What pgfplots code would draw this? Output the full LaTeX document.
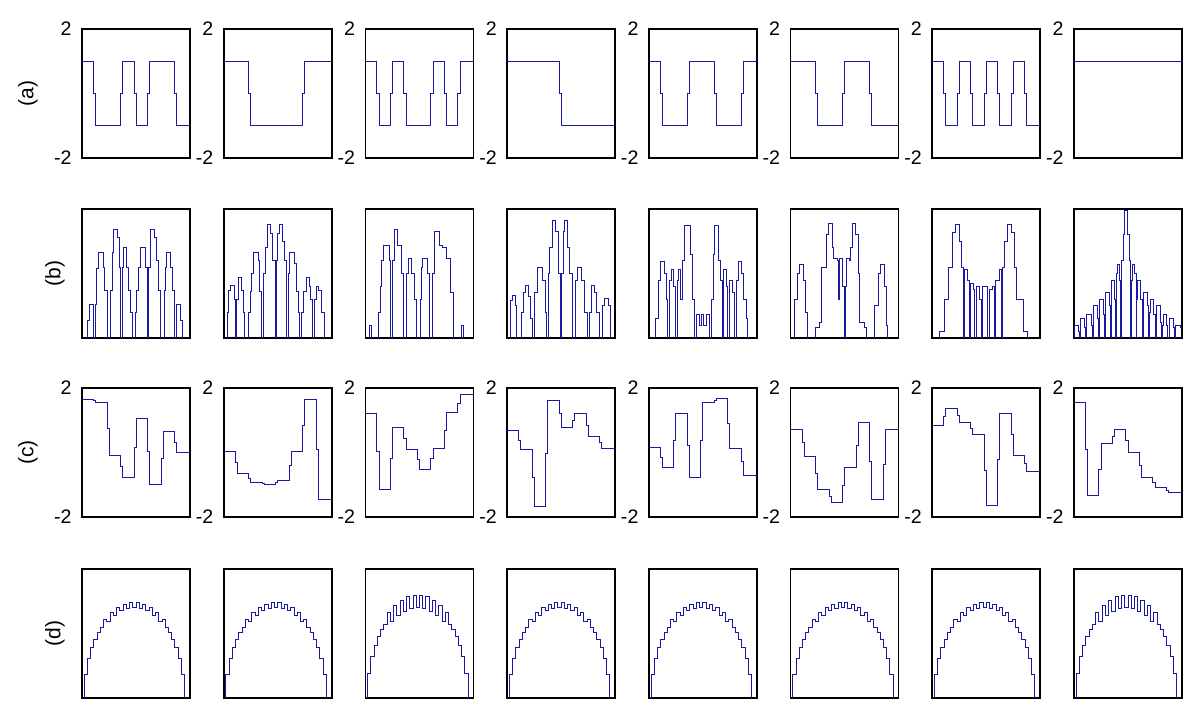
\documentclass[border=0pt]{standalone}
\usepackage{fontspec}
\setmainfont{Liberation Sans}
\usepackage{pgfplots}
\pgfplotsset{compat=1.18}
\definecolor{ln}{rgb}{0.1,0.1,0.64}
\pgfplotsset{
  panel/.style={scale only axis, width=54pt, height=64.5pt, anchor=north west,
    axis line style={line width=0.8pt, black}, xtick=\empty, ytick=\empty,
    major tick length=0pt,
    cycle list={{ln, line width=0.75pt, mark=none}},
    every axis plot/.append style={const plot},
    label style={font=\fontsize{10.5}{12}\selectfont},
    yticklabel style={font=\fontsize{9.8}{11}\selectfont, inner sep=0pt, xshift=-5pt}},
  rowac/.style={panel, xmin=0, xmax=8, ymin=-2, ymax=2, ytick={-2,2}, yticklabels={-2,2},
    ylabel style={at={(axis description cs:-0.5,0.5)}, anchor=center}},
  rowbd/.style={panel, xmin=0, xmax=1, ymin=0, ymax=1,
    ylabel style={at={(axis description cs:-0.25,0.5)}, anchor=center}},
}
\begin{document}
\begin{tikzpicture}
\useasboundingbox (0,0) rectangle (600pt,358.5pt);
% ---------------- row (a)
\begin{axis}[rowac, at={(41pt,344pt)}, ylabel={(a)}]
\addplot coordinates {(0,1) (0.85,0) (1,-1) (2.85,0) (3,1) (3.85,0) (4,-1) (4.85,0) (5,1) (6.85,0) (7,-1) (8,-1)};
\end{axis}
\begin{axis}[rowac, at={(111.85pt,344pt)}]
\addplot coordinates {(0,1) (1.85,0) (2,-1) (5.85,0) (6,1) (8,1)};
\end{axis}
\begin{axis}[rowac, at={(182.7pt,344pt)}]
\addplot coordinates {(0,1) (0.85,0) (1,-1) (1.85,0) (2,1) (2.85,0) (3,-1) (4.85,0) (5,1) (5.85,0) (6,-1) (6.85,0) (7,1) (8,1)};
\end{axis}
\begin{axis}[rowac, at={(253.55pt,344pt)}]
\addplot coordinates {(0,1) (3.85,0) (4,-1) (8,-1)};
\end{axis}
\begin{axis}[rowac, at={(324.4pt,344pt)}]
\addplot coordinates {(0,1) (0.85,0) (1,-1) (2.85,0) (3,1) (4.85,0) (5,-1) (6.85,0) (7,1) (8,1)};
\end{axis}
\begin{axis}[rowac, at={(395.25pt,344pt)}]
\addplot coordinates {(0,1) (1.85,0) (2,-1) (3.85,0) (4,1) (5.85,0) (6,-1) (8,-1)};
\end{axis}
\begin{axis}[rowac, at={(466.1pt,344pt)}]
\addplot coordinates {(0,1) (0.85,0) (1,-1) (1.85,0) (2,1) (2.85,0) (3,-1) (3.85,0) (4,1) (4.85,0) (5,-1) (5.85,0) (6,1) (6.85,0) (7,-1) (8,-1)};
\end{axis}
\begin{axis}[rowac, at={(536.95pt,344pt)}]
\addplot coordinates {(0,1) (8,1)};
\end{axis}
% ---------------- row (b)
\begin{axis}[rowbd, at={(41pt,254pt)}, ylabel={(b)}]
\addplot coordinates {(0,0) (0.052,0.14) (0.065,0.26) (0.108,0) (0.12,0.26) (0.132,0.54) (0.148,0.66) (0.194,0.55) (0.212,0.37) (0.231,0) (0.262,0.37) (0.277,0.66) (0.292,0.84) (0.329,0.78) (0.348,0.55) (0.36,0) (0.372,0.55) (0.382,0.70) (0.415,0.55) (0.431,0.37) (0.449,0.2) (0.465,0) (0.492,0.2) (0.508,0.37) (0.526,0.55) (0.545,0.70) (0.588,0.55) (0.603,0) (0.615,0.55) (0.631,0.84) (0.668,0.78) (0.686,0.6) (0.708,0.37) (0.729,0) (0.76,0.37) (0.775,0.55) (0.785,0.66) (0.822,0.55) (0.84,0.37) (0.858,0) (0.871,0.26) (0.908,0.14) (0.932,0) (1,0)};
\end{axis}
\begin{axis}[rowbd, at={(111.85pt,254pt)}]
\addplot coordinates {(0,0) (0.03,0.2) (0.045,0.37) (0.06,0.41) (0.1,0.3) (0.11,0) (0.12,0.3) (0.14,0.47) (0.165,0.37) (0.18,0.2) (0.195,0) (0.225,0.2) (0.245,0.36) (0.26,0.5) (0.275,0.66) (0.32,0.6) (0.335,0.36) (0.35,0) (0.37,0.5) (0.39,0.7) (0.405,0.88) (0.43,0.81) (0.45,0.6) (0.475,0) (0.485,0.6) (0.5,0.81) (0.52,0.88) (0.545,0.75) (0.565,0.6) (0.58,0) (0.595,0.5) (0.61,0.66) (0.65,0.58) (0.67,0.36) (0.69,0.2) (0.7,0) (0.72,0.2) (0.74,0.36) (0.765,0.47) (0.79,0.4) (0.805,0.3) (0.82,0) (0.84,0.3) (0.86,0.4) (0.88,0.37) (0.9,0.2) (0.935,0) (1,0)};
\end{axis}
\begin{axis}[rowbd, at={(182.7pt,254pt)}]
\addplot coordinates {(0,0) (0.035,0.1) (0.06,0) (0.12,0.2) (0.135,0.4) (0.15,0.6) (0.17,0.72) (0.22,0.6) (0.235,0) (0.25,0.6) (0.265,0.84) (0.3,0.72) (0.33,0.5) (0.355,0) (0.375,0.5) (0.395,0.62) (0.43,0.5) (0.455,0.3) (0.47,0) (0.51,0.3) (0.52,0.55) (0.53,0.62) (0.57,0.5) (0.595,0) (0.62,0.5) (0.64,0.83) (0.685,0.72) (0.71,0.7) (0.75,0.62) (0.79,0.35) (0.815,0) (0.885,0.1) (0.91,0) (1,0)};
\end{axis}
\begin{axis}[rowbd, at={(253.55pt,254pt)}]
\addplot coordinates {(0,0) (0.03,0.29) (0.05,0.33) (0.075,0.25) (0.09,0) (0.13,0.2) (0.15,0.35) (0.165,0.41) (0.2,0.32) (0.22,0.15) (0.235,0) (0.25,0.35) (0.28,0.55) (0.33,0.45) (0.35,0.2) (0.36,0) (0.38,0.5) (0.395,0.7) (0.42,0.91) (0.45,0.83) (0.475,0.5) (0.49,0) (0.5,0.5) (0.52,0.83) (0.535,0.91) (0.56,0.7) (0.58,0.5) (0.6,0) (0.635,0.45) (0.65,0.55) (0.69,0.45) (0.72,0.2) (0.74,0) (0.76,0.2) (0.78,0.41) (0.81,0.35) (0.83,0.2) (0.855,0) (0.88,0.25) (0.9,0.31) (0.94,0.25) (0.96,0) (1,0)};
\end{axis}
\begin{axis}[rowbd, at={(324.4pt,254pt)}]
\addplot coordinates {(0,0) (0.06,0.15) (0.09,0.45) (0.11,0.59) (0.14,0.5) (0.16,0.3) (0.17,0) (0.19,0.45) (0.205,0.53) (0.23,0.4) (0.25,0) (0.265,0.45) (0.275,0.53) (0.295,0.3) (0.31,0.6) (0.33,0.87) (0.385,0.65) (0.4,0.3) (0.42,0) (0.44,0.18) (0.47,0.1) (0.49,0.18) (0.51,0.1) (0.53,0.18) (0.56,0) (0.58,0.3) (0.6,0.65) (0.605,0.87) (0.645,0.6) (0.66,0.45) (0.68,0) (0.695,0.53) (0.715,0.4) (0.73,0) (0.75,0.45) (0.77,0.35) (0.79,0) (0.81,0.45) (0.83,0.59) (0.86,0.5) (0.875,0.3) (0.9,0.15) (0.915,0) (1,0)};
\end{axis}
\begin{axis}[rowbd, at={(395.25pt,254pt)}]
\addplot coordinates {(0,0) (0.04,0.3) (0.06,0.5) (0.08,0.57) (0.12,0.45) (0.14,0.2) (0.16,0) (0.23,0.08) (0.27,0.12) (0.29,0.55) (0.33,0.8) (0.35,0.89) (0.385,0.7) (0.4,0.62) (0.43,0.6) (0.445,0.3) (0.455,0.62) (0.48,0.4) (0.495,0) (0.505,0.4) (0.52,0.62) (0.545,0.6) (0.555,0.7) (0.57,0.89) (0.6,0.8) (0.625,0.5) (0.64,0.12) (0.68,0.08) (0.7,0) (0.78,0.25) (0.81,0.5) (0.83,0.57) (0.87,0.4) (0.89,0.1) (0.9,0) (1,0)};
\end{axis}
\begin{axis}[rowbd, at={(466.1pt,254pt)}]
\addplot coordinates {(0,0) (0.07,0.05) (0.11,0.3) (0.135,0.3) (0.15,0.55) (0.19,0.82) (0.215,0.88) (0.25,0.75) (0.27,0.55) (0.285,0) (0.295,0.53) (0.33,0.45) (0.345,0) (0.355,0.42) (0.38,0.38) (0.395,0) (0.41,0.4) (0.44,0.3) (0.455,0) (0.465,0.4) (0.5,0.4) (0.515,0) (0.525,0.38) (0.56,0.4) (0.575,0) (0.585,0.45) (0.62,0.53) (0.64,0) (0.65,0.55) (0.67,0.75) (0.7,0.88) (0.735,0.82) (0.76,0.55) (0.78,0.3) (0.82,0.3) (0.84,0.05) (0.88,0) (1,0)};
\end{axis}
\begin{axis}[rowbd, at={(536.95pt,254pt)}]
\addplot coordinates {(0,0) (0.005,0.1) (0.04,0.05) (0.05,0) (0.06,0.15) (0.1,0.08) (0.11,0) (0.12,0.18) (0.16,0.1) (0.17,0) (0.18,0.25) (0.215,0.15) (0.225,0) (0.235,0.3) (0.27,0.18) (0.28,0) (0.29,0.35) (0.325,0.25) (0.335,0) (0.345,0.45) (0.375,0.3) (0.385,0) (0.39,0.5) (0.4,0.57) (0.425,0.45) (0.435,0) (0.44,0.6) (0.455,0.8) (0.47,0.99) (0.495,0.8) (0.51,0.6) (0.525,0) (0.53,0.45) (0.545,0.57) (0.56,0.5) (0.575,0) (0.58,0.3) (0.59,0.45) (0.62,0.3) (0.63,0) (0.64,0.25) (0.645,0.35) (0.68,0.25) (0.69,0) (0.7,0.2) (0.71,0.3) (0.74,0.18) (0.75,0) (0.76,0.15) (0.765,0.25) (0.8,0.12) (0.81,0) (0.82,0.1) (0.825,0.18) (0.86,0.1) (0.87,0) (0.88,0.08) (0.885,0.15) (0.92,0.08) (0.93,0) (0.94,0.1) (0.99,0.08) (1,0)};
\end{axis}
% ---------------- row (c)
\begin{axis}[rowac, at={(41pt,164.5pt)}, ylabel={(c)}]
\addplot coordinates {(0,1.66) (0.85,1.61) (1,1.56) (1.85,0.74) (2,-0.08) (2.85,-0.42) (3,-0.76) (3.85,0.155) (4,1.07) (4.85,0.04) (5,-0.99) (5.85,-0.175) (6,0.64) (6.85,0.315) (7,-0.01) (8,-0.01)};
\end{axis}
\begin{axis}[rowac, at={(111.85pt,164.5pt)}]
\addplot coordinates {(0,0.04) (0.85,-0.305) (1,-0.65) (1.85,-0.795) (2,-0.94) (2.85,-0.965) (3,-0.99) (3.85,-0.93) (4,-0.87) (4.85,-0.415) (5,0.04) (5.85,0.85) (6,1.66) (6.85,0.105) (7,-1.45) (8,-1.45)};
\end{axis}
\begin{axis}[rowac, at={(182.7pt,164.5pt)}]
\addplot coordinates {(0,1.21) (0.85,0.035) (1,-1.14) (1.85,-0.175) (2,0.79) (2.85,0.44) (3,0.09) (3.85,-0.22) (4,-0.53) (4.85,-0.195) (5,0.14) (5.85,0.695) (6,1.25) (6.85,1.52) (7,1.79) (8,1.79)};
\end{axis}
\begin{axis}[rowac, at={(253.55pt,164.5pt)}]
\addplot coordinates {(0,0.68) (0.85,0.385) (1,0.09) (1.85,-0.785) (2,-1.66) (2.85,-0.025) (3,1.61) (3.85,1.2) (4,0.79) (4.85,1.0) (5,1.21) (5.85,0.855) (6,0.5) (6.85,0.32) (7,0.14) (8,0.14)};
\end{axis}
\begin{axis}[rowac, at={(324.4pt,164.5pt)}]
\addplot coordinates {(0,0.16) (0.85,-0.155) (1,-0.47) (1.85,0.37) (2,1.21) (2.85,0.225) (3,-0.76) (3.85,0.39) (4,1.54) (4.85,1.615) (5,1.69) (5.85,0.915) (6,0.14) (6.85,-0.285) (7,-0.71) (8,-0.71)};
\end{axis}
\begin{axis}[rowac, at={(395.25pt,164.5pt)}]
\addplot coordinates {(0,0.73) (0.85,0.3) (1,-0.13) (1.85,-0.635) (2,-1.14) (2.85,-1.35) (3,-1.56) (3.85,-1.015) (4,-0.47) (4.85,0.225) (5,0.92) (5.85,-0.265) (6,-1.45) (6.85,-0.36) (7,0.73) (8,0.73)};
\end{axis}
\begin{axis}[rowac, at={(466.1pt,164.5pt)}]
\addplot coordinates {(0,0.85) (0.85,1.105) (1,1.36) (1.85,1.14) (2,0.92) (2.85,0.74) (3,0.56) (3.85,-0.54) (4,-1.64) (4.85,-0.215) (5,1.21) (5.85,0.565) (6,-0.08) (6.85,-0.33) (7,-0.58) (8,-0.58)};
\end{axis}
\begin{axis}[rowac, at={(536.95pt,164.5pt)}]
\addplot coordinates {(0,1.54) (0.85,0.105) (1,-1.33) (1.85,-0.525) (2,0.28) (2.85,0.505) (3,0.73) (3.85,0.36) (4,-0.01) (4.85,-0.385) (5,-0.76) (5.85,-0.925) (6,-1.09) (6.85,-1.16) (7,-1.23) (8,-1.23)};
\end{axis}
% ---------------- row (d)
\begin{axis}[rowbd, at={(41pt,74pt)}, ylabel={(d)}]
\addplot coordinates {(0,0) (0.02,0.181) (0.05,0.309) (0.08,0.392) (0.11,0.456) (0.14,0.507) (0.17,0.550) (0.2,0.606) (0.23,0.597) (0.26,0.662) (0.29,0.644) (0.32,0.702) (0.35,0.676) (0.38,0.726) (0.41,0.694) (0.44,0.739) (0.47,0.700) (0.5,0.739) (0.53,0.694) (0.56,0.726) (0.59,0.676) (0.62,0.702) (0.65,0.644) (0.68,0.662) (0.71,0.597) (0.74,0.606) (0.77,0.550) (0.8,0.507) (0.83,0.456) (0.86,0.392) (0.89,0.309) (0.92,0.181) (0.95,0) (1,0)};
\end{axis}
\begin{axis}[rowbd, at={(111.85pt,74pt)}]
\addplot coordinates {(0,0) (0.02,0.181) (0.05,0.309) (0.08,0.392) (0.11,0.456) (0.14,0.507) (0.17,0.550) (0.2,0.606) (0.23,0.597) (0.26,0.662) (0.29,0.644) (0.32,0.702) (0.35,0.676) (0.38,0.726) (0.41,0.694) (0.44,0.739) (0.47,0.700) (0.5,0.739) (0.53,0.694) (0.56,0.726) (0.59,0.676) (0.62,0.702) (0.65,0.644) (0.68,0.662) (0.71,0.597) (0.74,0.606) (0.77,0.550) (0.8,0.507) (0.83,0.456) (0.86,0.392) (0.89,0.309) (0.92,0.181) (0.95,0) (1,0)};
\end{axis}
\begin{axis}[rowbd, at={(182.7pt,74pt)}]
\addplot coordinates {(0,0) (0.02,0.188) (0.05,0.322) (0.08,0.409) (0.11,0.475) (0.14,0.528) (0.17,0.573) (0.2,0.661) (0.23,0.593) (0.26,0.719) (0.29,0.642) (0.32,0.760) (0.35,0.675) (0.38,0.786) (0.41,0.694) (0.44,0.799) (0.47,0.700) (0.5,0.799) (0.53,0.694) (0.56,0.786) (0.59,0.675) (0.62,0.760) (0.65,0.642) (0.68,0.719) (0.71,0.593) (0.74,0.661) (0.77,0.573) (0.8,0.528) (0.83,0.475) (0.86,0.409) (0.89,0.322) (0.92,0.188) (0.95,0) (1,0)};
\end{axis}
\begin{axis}[rowbd, at={(253.55pt,74pt)}]
\addplot coordinates {(0,0) (0.02,0.181) (0.05,0.309) (0.08,0.392) (0.11,0.456) (0.14,0.507) (0.17,0.550) (0.2,0.606) (0.23,0.597) (0.26,0.662) (0.29,0.644) (0.32,0.702) (0.35,0.676) (0.38,0.726) (0.41,0.694) (0.44,0.739) (0.47,0.700) (0.5,0.739) (0.53,0.694) (0.56,0.726) (0.59,0.676) (0.62,0.702) (0.65,0.644) (0.68,0.662) (0.71,0.597) (0.74,0.606) (0.77,0.550) (0.8,0.507) (0.83,0.456) (0.86,0.392) (0.89,0.309) (0.92,0.181) (0.95,0) (1,0)};
\end{axis}
\begin{axis}[rowbd, at={(324.4pt,74pt)}]
\addplot coordinates {(0,0) (0.02,0.181) (0.05,0.309) (0.08,0.392) (0.11,0.456) (0.14,0.507) (0.17,0.550) (0.2,0.606) (0.23,0.597) (0.26,0.662) (0.29,0.644) (0.32,0.702) (0.35,0.676) (0.38,0.726) (0.41,0.694) (0.44,0.739) (0.47,0.700) (0.5,0.739) (0.53,0.694) (0.56,0.726) (0.59,0.676) (0.62,0.702) (0.65,0.644) (0.68,0.662) (0.71,0.597) (0.74,0.606) (0.77,0.550) (0.8,0.507) (0.83,0.456) (0.86,0.392) (0.89,0.309) (0.92,0.181) (0.95,0) (1,0)};
\end{axis}
\begin{axis}[rowbd, at={(395.25pt,74pt)}]
\addplot coordinates {(0,0) (0.02,0.181) (0.05,0.309) (0.08,0.392) (0.11,0.456) (0.14,0.507) (0.17,0.550) (0.2,0.606) (0.23,0.597) (0.26,0.662) (0.29,0.644) (0.32,0.702) (0.35,0.676) (0.38,0.726) (0.41,0.694) (0.44,0.739) (0.47,0.700) (0.5,0.739) (0.53,0.694) (0.56,0.726) (0.59,0.676) (0.62,0.702) (0.65,0.644) (0.68,0.662) (0.71,0.597) (0.74,0.606) (0.77,0.550) (0.8,0.507) (0.83,0.456) (0.86,0.392) (0.89,0.309) (0.92,0.181) (0.95,0) (1,0)};
\end{axis}
\begin{axis}[rowbd, at={(466.1pt,74pt)}]
\addplot coordinates {(0,0) (0.02,0.181) (0.05,0.309) (0.08,0.392) (0.11,0.456) (0.14,0.507) (0.17,0.550) (0.2,0.606) (0.23,0.597) (0.26,0.662) (0.29,0.644) (0.32,0.702) (0.35,0.676) (0.38,0.726) (0.41,0.694) (0.44,0.739) (0.47,0.700) (0.5,0.739) (0.53,0.694) (0.56,0.726) (0.59,0.676) (0.62,0.702) (0.65,0.644) (0.68,0.662) (0.71,0.597) (0.74,0.606) (0.77,0.550) (0.8,0.507) (0.83,0.456) (0.86,0.392) (0.89,0.309) (0.92,0.181) (0.95,0) (1,0)};
\end{axis}
\begin{axis}[rowbd, at={(536.95pt,74pt)}]
\addplot coordinates {(0,0) (0.02,0.188) (0.05,0.322) (0.08,0.409) (0.11,0.475) (0.14,0.528) (0.17,0.573) (0.2,0.661) (0.23,0.593) (0.26,0.719) (0.29,0.642) (0.32,0.760) (0.35,0.675) (0.38,0.786) (0.41,0.694) (0.44,0.799) (0.47,0.700) (0.5,0.799) (0.53,0.694) (0.56,0.786) (0.59,0.675) (0.62,0.760) (0.65,0.642) (0.68,0.719) (0.71,0.593) (0.74,0.661) (0.77,0.573) (0.8,0.528) (0.83,0.475) (0.86,0.409) (0.89,0.322) (0.92,0.188) (0.95,0) (1,0)};
\end{axis}
\end{tikzpicture}
\end{document}
